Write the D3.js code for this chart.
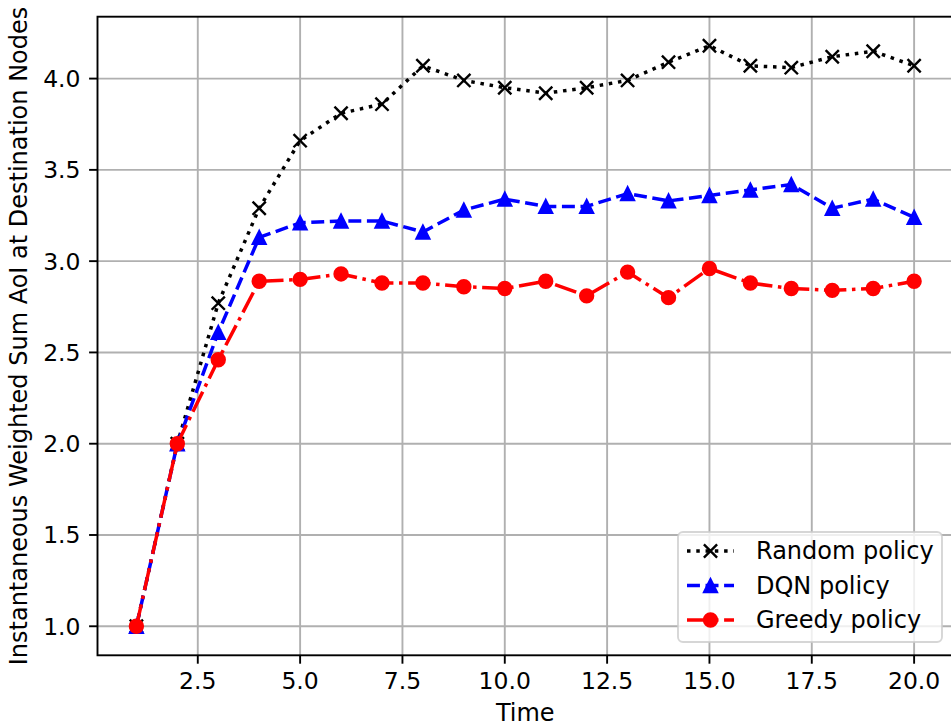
<!DOCTYPE html>
<html>
<head>
<meta charset="utf-8">
<script src="https://cdn.jsdelivr.net/npm/d3@7"></script>
<style>
  html, body { margin: 0; padding: 0; background: #fff; }
  svg { display: block; }
  text { font-family: "DejaVu Sans", sans-serif; fill: #000; }
</style>
</head>
<body>
<svg id="chart" width="951" height="727"></svg>
<script>
// ---- data ----
const times = [1, 2, 3, 4, 5, 6, 7, 8, 9, 10, 11, 12, 13, 14, 15, 16, 17, 18, 19, 20];
const randomPolicy = [1.00, 2.00, 2.77, 3.29, 3.66, 3.81, 3.86, 4.07, 3.99, 3.95, 3.92, 3.95, 3.99, 4.09, 4.18, 4.07, 4.06, 4.12, 4.15, 4.07];
const dqnPolicy    = [1.00, 2.00, 2.61, 3.13, 3.21, 3.22, 3.22, 3.16, 3.28, 3.34, 3.30, 3.30, 3.37, 3.33, 3.36, 3.39, 3.42, 3.29, 3.34, 3.24];
const greedyPolicy = [1.00, 2.00, 2.46, 2.89, 2.90, 2.93, 2.88, 2.88, 2.86, 2.85, 2.89, 2.81, 2.94, 2.80, 2.96, 2.88, 2.85, 2.84, 2.85, 2.89];
const seriesNames = ["Random policy", "DQN policy", "Greedy policy"];
const xTicks = [2.5, 5.0, 7.5, 10.0, 12.5, 15.0, 17.5, 20.0];
const yTicks = [1.0, 1.5, 2.0, 2.5, 3.0, 3.5, 4.0];
const xLabel = "Time";
const yLabel = "Instantaneous Weighted Sum AoI at Destination Nodes";

// ---- layout ----
const svg = d3.select("#chart");
const L = 97.5, R = 953, T = 16.7, B = 655.3;
const FS = 24, TFS = 23.5;
const LW = 3.5;

const allVals = randomPolicy.concat(dqnPolicy, greedyPolicy);
const [ymin, ymax] = d3.extent(allVals);
const ypad = (ymax - ymin) * 0.05;
const [xmin, xmax] = d3.extent(times);
const xpad = (xmax - xmin) * 0.05;

const x = d3.scaleLinear().domain([xmin - xpad, xmax + xpad]).range([L, R]);
const y = d3.scaleLinear().domain([ymin - ypad, ymax + ypad]).range([B, T]);

// grid
const grid = svg.append("g").attr("stroke", "#b0b0b0").attr("stroke-width", 1.9);
xTicks.forEach(t => grid.append("line").attr("x1", x(t)).attr("x2", x(t)).attr("y1", T).attr("y2", B));
yTicks.forEach(t => grid.append("line").attr("x1", L).attr("x2", R).attr("y1", y(t)).attr("y2", y(t)));

const series = [
  { name: seriesNames[0], values: randomPolicy, color: "#000000", dash: [1 * LW, 1.65 * LW], marker: "x" },
  { name: seriesNames[1], values: dqnPolicy,    color: "#0000ff", dash: [3.7 * LW, 1.6 * LW], marker: "^" },
  { name: seriesNames[2], values: greedyPolicy, color: "#ff0000", dash: [6.4 * LW, 1.6 * LW, 1 * LW, 1.6 * LW], marker: "o" }
];

function drawMarker(g, type, cx, cy, color) {
  if (type === "x") {
    const h = 6.6;
    g.append("path")
      .attr("d", `M${cx - h},${cy - h}L${cx + h},${cy + h}M${cx - h},${cy + h}L${cx + h},${cy - h}`)
      .attr("stroke", color).attr("stroke-width", 2.4).attr("fill", "none");
  } else if (type === "^") {
    const s = 6.8;
    g.append("path")
      .attr("d", `M${cx},${cy - s}L${cx - s},${cy + s}L${cx + s},${cy + s}Z`)
      .attr("fill", color).attr("stroke", color).attr("stroke-width", 1.8).attr("stroke-linejoin", "miter");
  } else {
    g.append("circle").attr("cx", cx).attr("cy", cy).attr("r", 6.8)
      .attr("fill", color).attr("stroke", color).attr("stroke-width", 1.8);
  }
}

const line = d3.line().x((d, i) => x(times[i])).y(d => y(d));
const plot = svg.append("g");
series.forEach(s => {
  const g = plot.append("g");
  g.append("path").datum(s.values).attr("d", line)
    .attr("fill", "none").attr("stroke", s.color).attr("stroke-width", LW)
    .attr("stroke-dasharray", s.dash.join(",")).attr("stroke-linejoin", "round").attr("stroke-linecap", "butt");
  s.values.forEach((v, i) => drawMarker(g, s.marker, x(times[i]), y(v), s.color));
});

// spines
const sp = svg.append("g").attr("stroke", "#000").attr("stroke-width", 1.9).attr("fill", "none");
sp.append("rect").attr("x", L).attr("y", T).attr("width", R - L).attr("height", B - T);

// ticks
const TL = 8.4;
const ax = svg.append("g");
xTicks.forEach(t => {
  ax.append("line").attr("x1", x(t)).attr("x2", x(t)).attr("y1", B).attr("y2", B + TL)
    .attr("stroke", "#000").attr("stroke-width", 1.9);
  ax.append("text").attr("x", x(t)).attr("y", 689).attr("text-anchor", "middle")
    .attr("font-size", TFS).text(d3.format(".1f")(t));
});
yTicks.forEach(t => {
  ax.append("line").attr("x1", L - TL).attr("x2", L).attr("y1", y(t)).attr("y2", y(t))
    .attr("stroke", "#000").attr("stroke-width", 1.9);
  ax.append("text").attr("x", 80.5).attr("y", y(t) + 8.5).attr("text-anchor", "end")
    .attr("font-size", TFS).text(d3.format(".1f")(t));
});

// axis labels
svg.append("text").attr("x", (L + R) / 2).attr("y", 720.5).attr("text-anchor", "middle")
  .attr("font-size", FS).text(xLabel);
svg.append("text").attr("transform", `translate(27,${(T + B) / 2}) rotate(-90)`)
  .attr("text-anchor", "middle").attr("font-size", FS).text(yLabel);

// legend
const lg = svg.append("g");
lg.append("rect").attr("x", 678).attr("y", 532).attr("width", 264).attr("height", 110)
  .attr("rx", 5).attr("ry", 5)
  .attr("fill", "#fff").attr("fill-opacity", 0.8)
  .attr("stroke", "#cccccc").attr("stroke-opacity", 0.8).attr("stroke-width", 1.9);
const rowY = [551, 585.5, 620];
series.forEach((s, i) => {
  const cy = rowY[i];
  lg.append("line").attr("x1", 687).attr("x2", 734).attr("y1", cy).attr("y2", cy)
    .attr("stroke", s.color).attr("stroke-width", LW).attr("stroke-dasharray", s.dash.join(","))
    .attr("stroke-linecap", "butt");
  drawMarker(lg, s.marker, 710.5, cy, s.color);
  lg.append("text").attr("x", 756).attr("y", cy + 8).attr("font-size", FS).text(s.name);
});
</script>
</body>
</html>
